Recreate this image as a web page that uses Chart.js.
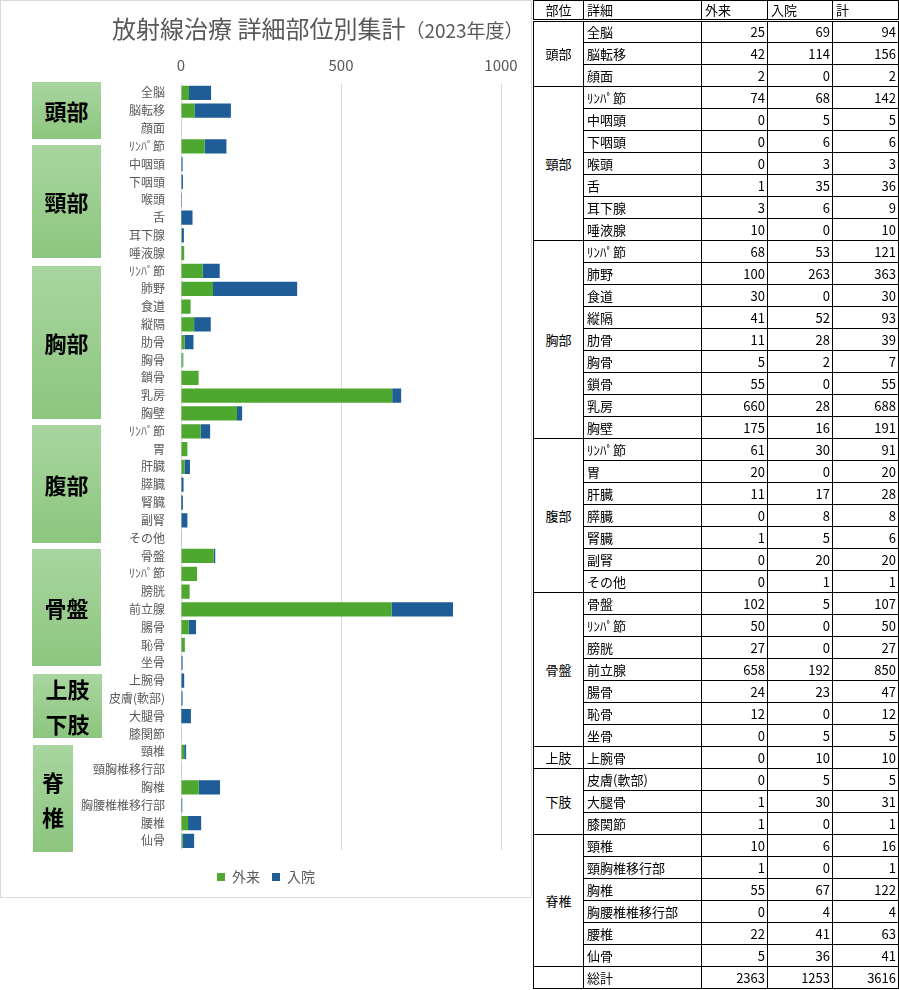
<!DOCTYPE html>
<html lang="ja">
<head>
<meta charset="utf-8">
<title>放射線治療 詳細部位別集計（2023年度）</title>
<script src="https://cdn.jsdelivr.net/npm/chart.js@4"></script>
<style>
  body { margin: 0; background: #fff; font-family: 'Noto Sans CJK JP', sans-serif; }
  #panel { position: absolute; left: 0; top: 0; width: 532px; height: 898px; border: 1px solid #d9d9d9; box-sizing: border-box; }
  #chart-wrap { position: absolute; left: 0; top: 0; width: 530px; height: 899px; }
  #title { position: absolute; left: 111px; top: 9px; white-space: nowrap; color: #595959; font-size: 24px; }
  #title small { font-size: 19px; }
  .region { position: absolute; background: linear-gradient(#a9d5a0, #8cc67e); color: #000; font-weight: bold; font-size: 22px;
            display: flex; flex-direction: column; align-items: center; justify-content: center; line-height: 35px; }
  #data-table { position: absolute; left: 533px; top: 0; width: 365px; border-collapse: collapse; table-layout: fixed; font-size: 13px; color: #000; }
  #data-table tr { height: 22px; }
  #data-table tr.head { height: 20px; }
  #data-table td, #data-table th { border: 1px solid #000; padding: 0 3px; line-height: 16px; font-weight: normal; white-space: nowrap; overflow: hidden; }
  #data-table th { text-align: left; border-bottom: 3px double #000; }
  #data-table th.c, #data-table td.c { text-align: center; }
  #data-table td.n { text-align: right; padding-right: 2px; }
</style>
</head>
<body>
<div id="panel">
  <div id="chart-wrap"><canvas id="rt-chart"></canvas></div>
  <div id="title">放射線治療 詳細部位別集計<small>（2023年度）</small></div>
  <div class="region" style="left:31px;top:81px;width:69px;height:57px;">頭部</div>
  <div class="region" style="left:31px;top:144px;width:69px;height:113px;">頸部</div>
  <div class="region" style="left:31px;top:265px;width:69px;height:153px;">胸部</div>
  <div class="region" style="left:31px;top:424px;width:69px;height:118px;">腹部</div>
  <div class="region" style="left:31px;top:548px;width:69px;height:117px;">骨盤</div>
  <div class="region" style="left:32px;top:673px;width:69px;height:64px;"><span>上肢</span><span>下肢</span></div>
  <div class="region" style="left:32px;top:744px;width:40px;height:107px;"><span>脊</span><span>椎</span></div>
</div>
<table id="data-table"></table>

<script>
// 部位ごとの行数
var regions = ['頭部', '頸部', '胸部', '腹部', '骨盤', '上肢', '下肢', '脊椎'];
var regionCounts = [3, 7, 9, 7, 7, 1, 3, 6];

var details = [
    '全脳', '脳転移', '顔面',
    'ﾘﾝﾊﾟ節', '中咽頭', '下咽頭', '喉頭', '舌', '耳下腺', '唾液腺',
    'ﾘﾝﾊﾟ節', '肺野', '食道', '縦隔', '肋骨', '胸骨', '鎖骨', '乳房', '胸壁',
    'ﾘﾝﾊﾟ節', '胃', '肝臓', '膵臓', '腎臓', '副腎', 'その他',
    '骨盤', 'ﾘﾝﾊﾟ節', '膀胱', '前立腺', '腸骨', '恥骨', '坐骨',
    '上腕骨',
    '皮膚(軟部)', '大腿骨', '膝関節',
    '頸椎', '頸胸椎移行部', '胸椎', '胸腰椎椎移行部', '腰椎', '仙骨'
];

var outpatient = [
    25, 42, 2,
    74, 0, 0, 0, 1, 3, 10,
    68, 100, 30, 41, 11, 5, 55, 660, 175,
    61, 20, 11, 0, 1, 0, 0,
    102, 50, 27, 658, 24, 12, 0,
    0,
    0, 1, 1,
    10, 1, 55, 0, 22, 5
];

var inpatient = [
    69, 114, 0,
    68, 5, 6, 3, 35, 6, 0,
    53, 263, 0, 52, 28, 2, 0, 28, 16,
    30, 0, 17, 8, 5, 20, 1,
    5, 0, 0, 192, 23, 0, 5,
    10,
    5, 30, 0,
    6, 0, 67, 4, 41, 36
];

var xTicks = [0, 500, 1000];

var colors = {
    green: '#4ea72e',
    blue: '#1f5d99',
    text: '#595959',
    grid: '#d9d9d9'
};

function buildTable() {
    var table = document.getElementById('data-table');
    var html = '<colgroup><col style="width:50px"><col style="width:118px"><col style="width:66px"><col style="width:65px"><col style="width:66px"></colgroup>';
    html += '<tr class="head"><th class="c">部位</th><th>詳細</th><th>外来</th><th>入院</th><th>計</th></tr>';

    var idx = 0;
    var sumOut = 0, sumIn = 0;
    for (var r = 0; r < regions.length; r++) {
        for (var k = 0; k < regionCounts[r]; k++) {
            var o = outpatient[idx], n = inpatient[idx];
            sumOut += o;
            sumIn += n;
            html += '<tr>';
            if (k === 0) {
                html += '<td class="c" rowspan="' + regionCounts[r] + '">' + regions[r] + '</td>';
            }
            html += '<td>' + details[idx] + '</td>';
            html += '<td class="n">' + o + '</td><td class="n">' + n + '</td><td class="n">' + (o + n) + '</td>';
            html += '</tr>';
            idx++;
        }
    }
    html += '<tr><td></td><td>総計</td><td class="n">' + sumOut + '</td><td class="n">' + sumIn + '</td><td class="n">' + (sumOut + sumIn) + '</td></tr>';
    table.innerHTML = html;
}

function buildChart() {
    Chart.defaults.font.family = "'Noto Sans CJK JP', sans-serif";
    var ctx = document.getElementById('rt-chart').getContext('2d');

    new Chart(ctx, {
        type: 'bar',
        data: {
            labels: details,
            datasets: [{
                label: '外来',
                data: outpatient,
                backgroundColor: colors.green,
                barPercentage: 0.8,
                categoryPercentage: 1
            }, {
                label: '入院',
                data: inpatient,
                backgroundColor: colors.blue,
                barPercentage: 0.8,
                categoryPercentage: 1
            }]
        },
        options: {
            indexAxis: 'y',
            responsive: true,
            maintainAspectRatio: false,
            animation: false,
            layout: {
                padding: { top: 48, right: 0, bottom: 6, left: 0 }
            },
            plugins: {
                legend: {
                    position: 'bottom',
                    // 見えないタイトルで凡例を少し下げる
                    title: { display: true, text: ' ', font: { size: 1 }, padding: { top: 0, bottom: 7 } },
                    labels: {
                        color: colors.text,
                        font: { size: 14 },
                        boxWidth: 8,
                        boxHeight: 8,
                        padding: 12
                    }
                },
                tooltip: { enabled: true }
            },
            scales: {
                x: {
                    position: 'top',
                    stacked: true,
                    min: xTicks[0],
                    max: xTicks[xTicks.length - 1],
                    afterBuildTicks: function(scale) {
                        scale.ticks = xTicks.map(function(v) { return { value: v }; });
                    },
                    afterFit: function(scale) { scale.height = 35; },
                    ticks: {
                        color: colors.text,
                        font: { size: 15 },
                        padding: 10,
                        callback: function(v) { return String(v); }
                    },
                    grid: {
                        color: colors.grid,
                        drawTicks: false
                    },
                    border: { display: false }
                },
                y: {
                    stacked: true,
                    afterFit: function(scale) { scale.width = 180; },
                    ticks: {
                        color: colors.text,
                        font: { size: 12 },
                        padding: 8,
                        autoSkip: false
                    },
                    grid: { display: false },
                    border: { display: false }
                },
                // 右側の余白（凡例を全幅で中央に置くため）
                yRight: {
                    type: 'linear',
                    position: 'right',
                    afterFit: function(scale) { scale.width = 30; },
                    ticks: { display: false },
                    grid: { display: false },
                    border: { display: false }
                }
            }
        }
    });
}

buildTable();
buildChart();
</script>
</body>
</html>
